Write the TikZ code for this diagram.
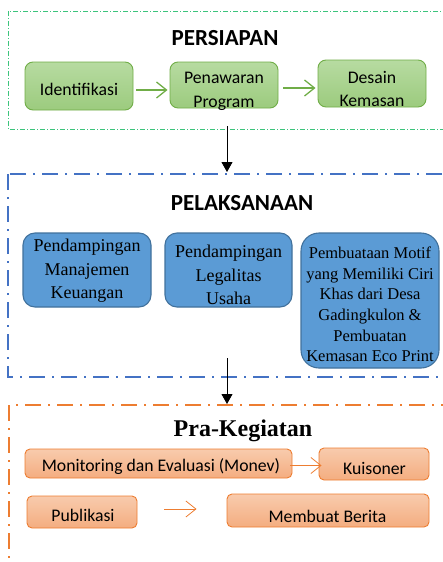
\documentclass[tikz,border=0pt]{standalone}
\usepackage{fontspec}
\setmainfont{Liberation Serif}
\newfontfamily\calibri{Carlito}
\usetikzlibrary{arrows.meta}

\definecolor{frameGreen}{HTML}{3CC47C}
\definecolor{frameBlue}{HTML}{4472C4}
\definecolor{frameOrange}{HTML}{ED7D31}
\definecolor{boxGreenTop}{HTML}{B7DBA1}
\definecolor{boxGreenBot}{HTML}{9CCB7E}
\definecolor{boxGreenLine}{HTML}{70AD47}
\definecolor{boxBlue}{HTML}{5B9BD5}
\definecolor{boxBlueLine}{HTML}{41719C}
\definecolor{boxOrangeTop}{HTML}{F8CBAD}
\definecolor{boxOrangeBot}{HTML}{F4AD80}

\tikzset{
  greenframe/.style={frameGreen, line width=0.9pt, dash pattern=on 5pt off 2pt on 1pt off 2pt},
  blueframe/.style={frameBlue, line width=1.4pt, dash pattern=on 16pt off 7pt on 2pt off 7pt},
  orangeframe/.style={frameOrange, line width=1.4pt, dash pattern=on 16pt off 7pt on 2pt off 7pt},
  sans/.style={font=\calibri\fontsize{17.7}{24}\selectfont, align=center, inner sep=0pt},
  serif/.style={font=\fontsize{18}{23.5}\selectfont, align=center, inner sep=0pt},
  title/.style={font=\calibri\bfseries\fontsize{23}{27}\selectfont},
  gbox/.style={draw=boxGreenLine, line width=0.9pt, rounded corners=8pt,
    top color=boxGreenTop, bottom color=boxGreenBot, inner sep=0pt},
  bbox/.style={draw=boxBlueLine, line width=1.1pt, rounded corners=12pt,
    fill=boxBlue, inner sep=0pt},
  obox/.style={draw=frameOrange, line width=0.9pt, rounded corners=5pt,
    top color=boxOrangeTop, bottom color=boxOrangeBot, inner sep=0pt},
  garrow/.style={boxGreenLine, line width=1.3pt, -{Straight Barb[length=10pt,width=16pt]}},
  oarrow/.style={frameOrange, line width=0.8pt, -{Straight Barb[length=10pt,width=16pt]}},
  karrow/.style={black, line width=0.9pt, -{Triangle[length=10pt,width=11pt]}}
}

\begin{document}
\begin{tikzpicture}[x=1pt, y=-1pt]
\useasboundingbox (0,0) rectangle (443,562);

% frames
\draw[greenframe] (8,11) rectangle (470,129);
\draw[blueframe] (8,174) rectangle (470,377);
\draw[orangeframe] (9,405) rectangle (470,600);

% persiapan
\node[title] (persiapan) at (225,38) {PERSIAPAN};
\node[gbox, minimum width=108pt, minimum height=48pt] (ident) at (79,86) {};
\node[sans] (identTxt) at (79,89) {Identifikasi};
\node[gbox, minimum width=108pt, minimum height=46pt] (penawaran) at (224,85) {};
\node[sans] (penawaranTxt) at (224,91) {Penawaran\\Program};
\node[gbox, minimum width=108pt, minimum height=47pt] (desain) at (372,83.5) {};
\node[sans, font=\calibri\fontsize{17.7}{23}\selectfont] (desainTxt) at (372,88.5) {Desain\\Kemasan};

\draw[garrow] ([xshift=3pt,yshift=-4pt]ident.east) -- ([xshift=-2pt,yshift=-4pt]ident.east -| penawaran.west);
\draw[garrow] ([xshift=5pt,yshift=-3pt]penawaran.east) -- ([xshift=-2pt,yshift=-3pt]penawaran.east -| desain.west);

% pelaksanaan
\coordinate (down1a) at (227,126);
\coordinate (down1b) at (227,172);
\draw[karrow] (down1a) -- (down1b);

\node[title] (pelaksanaan) at (242,203) {PELAKSANAAN};
\node[bbox, minimum width=128pt, minimum height=74pt] (keuangan) at (87,270) {};
\node[serif] (keuanganTxt) at (87,271) {Pendampingan\\Manajemen\\Keuangan};
\node[bbox, minimum width=127pt, minimum height=74pt] (legalitas) at (228.5,270) {};
\node[serif] (legalitasTxt) at (228.5,275) {Pendampingan\\Legalitas\\Usaha};
\node[bbox, rounded corners=18pt, minimum width=138pt, minimum height=135pt] (motif) at (370,300.5) {};
\node[serif, font=\fontsize{16.5}{20.6}\selectfont] (motifTxt) at (370,304.5)
  {Pembuataan Motif\\yang Memiliki Ciri\\Khas dari Desa\\Gadingkulon \&\\Pembuatan\\Kemasan Eco Print};

% pra-kegiatan
\coordinate (down2a) at (227,358);
\coordinate (down2b) at (227,404);
\draw[karrow] (down2a) -- (down2b);

\node[font=\bfseries\fontsize{24}{28}\selectfont] (prakegiatan) at (243,431) {Pra-Kegiatan};
\node[obox, minimum width=267pt, minimum height=29pt] (monev) at (158.5,463.5) {};
\node[sans] (monevTxt) at (161,467) {Monitoring dan Evaluasi (Monev)};
\node[obox, minimum width=110pt, minimum height=32pt] (kuis) at (374,464) {};
\node[sans] (kuisTxt) at (374.5,468) {Kuisoner};
\node[obox, minimum width=110pt, minimum height=32pt] (publikasi) at (82,512) {};
\node[sans] (publikasiTxt) at (83,515.5) {Publikasi};
\node[obox, minimum width=202pt, minimum height=33pt] (berita) at (328,510.5) {};
\node[sans] (beritaTxt) at (327.5,516) {Membuat Berita};

\draw[oarrow] ([xshift=-2pt,yshift=-2pt]monev.east) -- ([xshift=3pt,yshift=-2pt]monev.east -| kuis.west);
\draw[oarrow] ([xshift=27pt,yshift=3pt]publikasi.east) -- ([xshift=-30pt,yshift=3pt]publikasi.east -| berita.west);
\end{tikzpicture}
\end{document}
